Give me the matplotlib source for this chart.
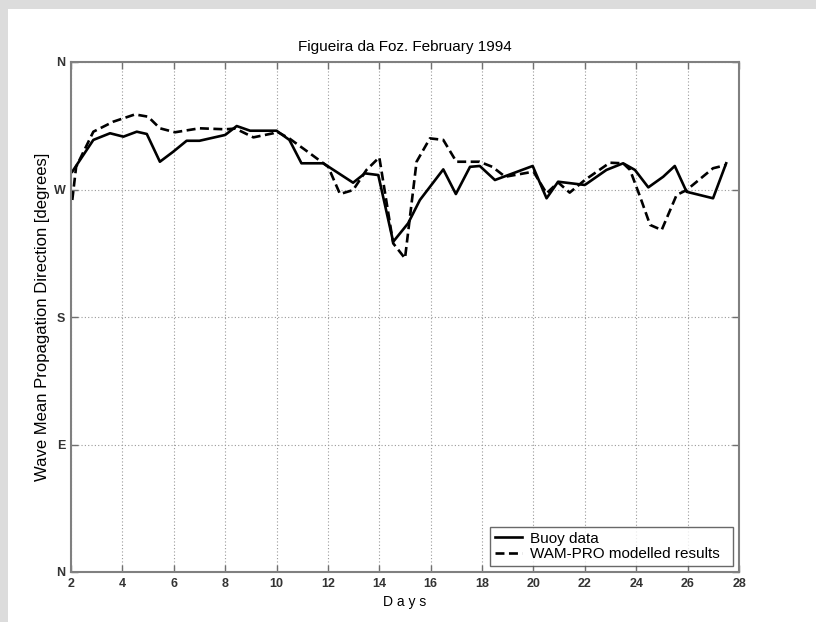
import matplotlib
matplotlib.use("Agg")
import matplotlib.pyplot as plt
from matplotlib.patches import Rectangle

plt.rcParams['font.family'] = ['Liberation Sans', 'DejaVu Sans']

# Buoy data (day, direction in degrees)
buoy_days = [2.05, 2.87, 3.52, 4.04, 4.56, 4.95, 5.46, 5.98, 6.5, 7.0, 8.0, 8.45, 8.97, 10.0,
             10.5, 10.97, 11.82, 12.98, 13.44, 13.96, 14.54, 15.12, 15.58, 16.49, 16.98,
             17.53, 17.91, 18.5, 19.97, 20.51, 20.96, 22.0, 22.84, 23.49, 23.95, 24.47,
             25.05, 25.5, 25.96, 26.99, 27.5]
buoy_dir = [282.6, 305.0, 309.7, 307.3, 310.8, 309.2, 289.6, 296.7, 304.4, 304.4, 308.5, 314.8,
            311.5, 311.5, 305.0, 288.5, 288.5, 274.8, 281.4, 280.2, 233.1, 246.1, 262.6,
            284.2, 266.8, 286.0, 286.6, 276.7, 286.6, 263.8, 275.5, 273.2, 283.8, 288.5,
            283.8, 271.5, 279.0, 286.6, 268.4, 263.8, 288.5]

# WAM-PRO modelled results
wam_days = [2.05, 2.2, 2.87, 3.65, 4.49, 5.0, 5.46, 6.05, 7.0, 8.0, 8.4, 9.1, 9.87, 10.0, 10.5,
            11.3, 12.01, 12.47, 12.98, 13.5, 14.0, 14.54, 15.0, 15.45, 15.97, 16.49, 17.0,
            17.9, 18.4, 18.9, 20.0, 20.51, 20.96, 21.41, 22.0, 22.97, 23.49, 23.76, 24.15,
            24.54, 24.99, 25.57, 25.96, 26.99, 27.5]
wam_dir = [262.6, 286.0, 310.8, 317.9, 323.0, 321.4, 313.2, 310.4, 313.2, 312.5, 313.0, 306.8,
           309.7, 311.0, 306.0, 295.5, 286.0, 266.8, 269.6, 283.8, 292.7, 232.0, 221.4, 289.6,
           306.1, 305.0, 289.6, 289.6, 286.0, 279.0, 282.6, 267.3, 275.0, 267.8, 276.7,
           288.9, 288.5, 283.8, 264.9, 245.0, 241.4, 266.1, 269.6, 285.0, 287.3]

x_ticks = list(range(2, 29, 2))
y_ticks = [0, 90, 180, 270, 360]
y_labels = ['N', 'E', 'S', 'W', 'N']

fig = plt.figure(figsize=(8.16, 6.22), dpi=100)
fig.patch.set_facecolor('white')
# light gray border (scan artifact)
fig.add_artist(Rectangle((0, 1 - 9 / 622), 1, 9 / 622, transform=fig.transFigure,
                         facecolor='#dcdcdc', edgecolor='none'))
fig.add_artist(Rectangle((0, 0), 8 / 816, 1, transform=fig.transFigure,
                         facecolor='#dcdcdc', edgecolor='none'))

ax = fig.add_axes([71 / 816, 1 - 572 / 622, (739 - 71) / 816, (572 - 62) / 622])
ax.plot(buoy_days, buoy_dir, color='black', lw=1.9, linestyle='-', label='Buoy data  ')
ax.plot(wam_days, wam_dir, color='black', lw=1.9, linestyle=(0, (3.4, 1.7)),
        label='WAM-PRO modelled results  ')

ax.set_xlim(2, 28)
ax.set_ylim(0, 360)
ax.set_xticks(x_ticks)
ax.set_yticks(y_ticks)
ax.set_yticklabels(y_labels)
ax.grid(True, color='#9a9a9a', linestyle=(0, (1, 2)), linewidth=0.8)
ax.tick_params(direction='in', top=True, right=True, length=5, width=1,
               color='#707070', labelsize=9, pad=4)
for lab in ax.get_xticklabels() + ax.get_yticklabels():
    lab.set_fontweight('bold')
    lab.set_color('#333333')
for s in ax.spines.values():
    s.set_color('#808080')
    s.set_linewidth(1.5)

ax.set_title('Figueira da Foz. February 1994', fontsize=11, pad=8)
ax.set_xlabel('D a y s', fontsize=10, labelpad=4)
ax.set_ylabel('Wave Mean Propagation Direction [degrees]', fontsize=12, labelpad=3)

leg = ax.legend(loc='lower right', fontsize=11, frameon=True, fancybox=False,
                borderaxespad=0.4, handlelength=1.8, labelspacing=0.1,
                borderpad=0.3, handletextpad=0.5)
leg.get_frame().set_edgecolor('#444444')
leg.get_frame().set_linewidth(1.0)

fig.savefig('out.png', dpi=100)
